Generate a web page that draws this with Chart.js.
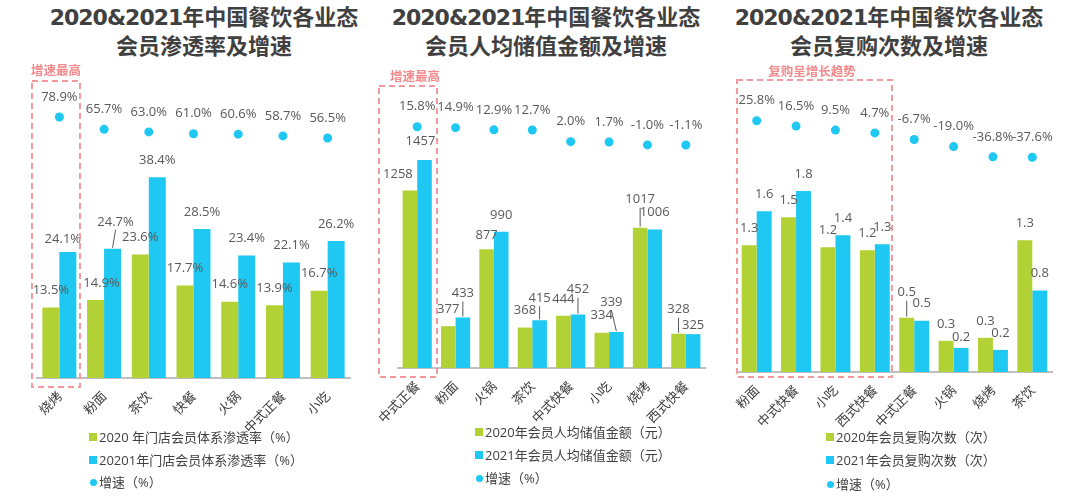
<!DOCTYPE html>
<html>
<head>
<meta charset="utf-8">
<script src="https://cdn.jsdelivr.net/npm/chart.js@4/dist/chart.umd.min.js"></script>
<style>
  html, body { margin:0; padding:0; background:#fff; }
  body { width:1080px; height:501px; position:relative; overflow:hidden; }
  .cv { position:absolute; top:0; }
  .title { position:absolute; top:3px; width:360px; text-align:center; font-family:"DejaVu Sans","Noto Sans CJK SC",sans-serif; font-weight:700; font-size:22px; line-height:29px; color:#404040; }
  .title .num { letter-spacing:-1px; }
  .note { position:absolute; font-family:"Noto Sans CJK SC",sans-serif; font-weight:700; font-size:12.5px; line-height:14px; color:#F28A8C; transform:translate(-50%,-50%); white-space:nowrap; }
  .legend { position:absolute; font-family:"Open Sans","Noto Sans CJK SC",sans-serif; font-size:13px; color:#404040; }
  .legend .row { position:absolute; left:0; white-space:nowrap; height:18px; line-height:18px; transform:translateY(-50%); }
  .legend .sw { position:absolute; left:0; top:5px; width:8px; height:8px; }
  .legend .dot { position:absolute; left:1px; top:6px; width:7px; height:7px; border-radius:50%; }
  .legend .tx { position:absolute; left:10px; top:0; }
  svg.ov { position:absolute; left:0; top:0; pointer-events:none; }
</style>
</head>
<body>

<div class="title" style="left:24px"><span class="num">2020&amp;2021</span>年中国餐饮各业态<br>会员渗透率及增速</div>
<div class="title" style="left:366px"><span class="num">2020&amp;2021</span>年中国餐饮各业态<br>会员人均储值金额及增速</div>
<div class="title" style="left:709px"><span class="num">2020&amp;2021</span>年中国餐饮各业态<br>会员复购次数及增速</div>

<canvas id="c1" class="cv" width="360" height="440" style="left:0px"></canvas>
<canvas id="c2" class="cv" width="360" height="440" style="left:360px"></canvas>
<canvas id="c3" class="cv" width="360" height="440" style="left:720px"></canvas>

<svg class="ov" width="1080" height="501">
  <g fill="none" stroke="#F29A9D" stroke-width="2" stroke-dasharray="6 4">
    <rect x="32" y="81" width="48" height="306"/>
    <rect x="379" y="86" width="58" height="291"/>
    <rect x="737" y="80" width="155" height="297"/>
  </g>
</svg>

<div class="note" style="left:56px;top:70px">增速最高</div>
<div class="note" style="left:415px;top:76px">增速最高</div>
<div class="note" style="left:812px;top:71px">复购呈增长趋势</div>

<div id="lg1" class="legend" style="left:89px;top:0"></div>
<div id="lg2" class="legend" style="left:475px;top:0"></div>
<div id="lg3" class="legend" style="left:826px;top:0"></div>

<script>
// ---------- DATA ----------
const GREEN = '#B1D135';
const BLUE = '#1EC8F2';

// Panel 1: 会员渗透率
const p1Categories = ['烧烤', '粉面', '茶饮', '快餐', '火锅', '中式正餐', '小吃'];
const p1Rate2020 = [13.5, 14.9, 23.6, 17.7, 14.6, 13.9, 16.7];
const p1Rate2021 = [24.1, 24.7, 38.4, 28.5, 23.4, 22.1, 26.2];
const p1Growth = [78.9, 65.7, 63.0, 61.0, 60.6, 58.7, 56.5];
const p1Legend = ['2020 年门店会员体系渗透率（%）', '20201年门店会员体系渗透率（%）', '增速（%）'];

// Panel 2: 会员人均储值金额
const p2Categories = ['中式正餐', '粉面', '火锅', '茶饮', '中式快餐', '小吃', '烧烤', '西式快餐'];
const p2Amount2020 = [1258, 377, 877, 368, 444, 334, 1017, 328];
const p2Amount2021 = [1457, 433, 990, 415, 452, 339, 1006, 325];
const p2Growth = [15.8, 14.9, 12.9, 12.7, 2.0, 1.7, -1.0, -1.1];
const p2Legend = ['2020年会员人均储值金额（元）', '2021年会员人均储值金额（元）', '增速（%）'];

// Panel 3: 会员复购次数
const p3Categories = ['粉面', '中式快餐', '小吃', '西式快餐', '中式正餐', '火锅', '烧烤', '茶饮'];
const p3Times2020 = [1.26, 1.54, 1.24, 1.21, 0.54, 0.31, 0.34, 1.31];
const p3Times2021 = [1.60, 1.80, 1.36, 1.27, 0.51, 0.24, 0.22, 0.81];
const p3Growth = [25.8, 16.5, 9.5, 4.7, -6.7, -19.0, -36.8, -37.6];
const p3Legend = ['2020年会员复购次数（次）', '2021年会员复购次数（次）', '增速（%）'];

// ---------- RENDERING ----------
function makeLabelPlugin(barFmt, pointFmt, nudges) {
  return {
    id: 'valueLabels',
    afterDatasetsDraw(chart) {
      const ctx = chart.ctx;
      ctx.save();
      ctx.font = '13px "Open Sans", "Noto Sans", sans-serif';
      ctx.fillStyle = '#595959';
      ctx.strokeStyle = '#595959';
      ctx.lineWidth = 1;
      ctx.textAlign = 'center';
      ctx.textBaseline = 'middle';
      chart.data.datasets.forEach((ds, di) => {
        const meta = chart.getDatasetMeta(di);
        const isPoint = ds.type === 'line';
        meta.data.forEach((el, i) => {
          const v = ds.data[i];
          const n = nudges[di + ':' + i] || {};
          const dx = n.dx || 0;
          const dy = (n.dy !== undefined) ? n.dy : (isPoint ? -20 : -17);
          const lx = el.x + dx, ly = el.y + dy;
          ctx.fillText(isPoint ? pointFmt(v) : barFmt(v), lx, ly);
          if (n.leader) {
            ctx.beginPath();
            ctx.moveTo(lx, ly + 8);
            ctx.lineTo(el.x, el.y - 1);
            ctx.stroke();
          }
        });
      });
      ctx.restore();
    }
  };
}

function makeChart(id, labels, a, b, g, legend, yScale, y2Scale, padding, barFmt, nudges) {
  return new Chart(document.getElementById(id), {
    type: 'bar',
    data: {
      labels: labels,
      datasets: [
        { label: legend[0], data: a, backgroundColor: GREEN, yAxisID: 'y', order: 2,
          categoryPercentage: 0.76, barPercentage: 1.0 },
        { label: legend[1], data: b, backgroundColor: BLUE, yAxisID: 'y', order: 2,
          categoryPercentage: 0.76, barPercentage: 1.0 },
        { type: 'line', label: legend[2], data: g, yAxisID: 'y2', order: 1, showLine: false,
          pointRadius: 4.5, pointBackgroundColor: BLUE, pointBorderWidth: 0, clip: false }
      ]
    },
    options: {
      responsive: false,
      animation: false,
      devicePixelRatio: 1,
      layout: { padding: padding },
      plugins: { legend: { display: false }, tooltip: { enabled: false } },
      scales: {
        x: {
          grid: { display: false },
          border: { display: true, color: '#BFBFBF', width: 2 },
          ticks: { minRotation: 45, maxRotation: 45, autoSkip: false, padding: 2,
                   color: '#404040', font: { size: 13, family: '"Noto Sans CJK SC", sans-serif' } },
          afterFit: (s) => { s.height = 60; }
        },
        y: Object.assign({ display: false }, yScale),
        y2: Object.assign({ display: false, position: 'right' }, y2Scale)
      }
    },
    plugins: [makeLabelPlugin(barFmt, (v) => v.toFixed(1) + '%', nudges)]
  });
}

makeChart('c1', p1Categories, p1Rate2020, p1Rate2021, p1Growth, p1Legend,
  { min: 0, max: 53.15 }, { min: -199.5, max: 97.0 },
  { left: 37, right: 10, top: 100, bottom: 2 },
  (v) => v.toFixed(1) + '%',
  { '1:0': { dx: -5, dy: -13 }, '0:1': { dx: 6 }, '1:1': { dx: 3, dy: -27, leader: true } });

makeChart('c2', p2Categories, p2Amount2020, p2Amount2021, p2Growth, p2Legend,
  { min: 105, max: 1847 }, { min: -207.0, max: 40.45 },
  { left: 38, right: 15, top: 100, bottom: 12 },
  (v) => String(Math.round(v)),
  { '0:0': { dx: -12, dy: -16 }, '1:0': { dx: -4, dy: -19 }, '1:1': { dy: -24, leader: true },
    '0:2': { dy: -14 }, '1:3': { dy: -22, leader: true }, '1:4': { dy: -25, leader: true },
    '1:5': { dx: -5, dy: -30, leader: true }, '0:6': { dy: -28, leader: true },
    '0:7': { dy: -24, leader: true }, '1:7': { dy: -9 } });

makeChart('c3', p3Categories, p3Times2020, p3Times2021, p3Growth, p3Legend,
  { min: 0, max: 2.706 }, { min: -409.7, max: 61.7 },
  { left: 17, right: 28, top: 100, bottom: 8 },
  (v) => v.toFixed(1),
  { '0:4': { dy: -25, leader: true }, '1:5': { dy: -11 } });

// HTML legends
function buildLegend(id, items, rows) {
  const el = document.getElementById(id);
  items.forEach((t, i) => {
    const r = document.createElement('div');
    r.className = 'row';
    r.style.top = rows[i] + 'px';
    const m = document.createElement('span');
    if (i < 2) { m.className = 'sw'; m.style.background = i === 0 ? GREEN : BLUE; }
    else { m.className = 'dot'; m.style.background = BLUE; }
    const s = document.createElement('span');
    s.className = 'tx';
    s.textContent = t;
    r.appendChild(m); r.appendChild(s);
    el.appendChild(r);
  });
}
buildLegend('lg1', p1Legend, [437, 460, 482]);
buildLegend('lg2', p2Legend, [432, 455, 478]);
buildLegend('lg3', p3Legend, [437, 460, 484]);
</script>
</body>
</html>
